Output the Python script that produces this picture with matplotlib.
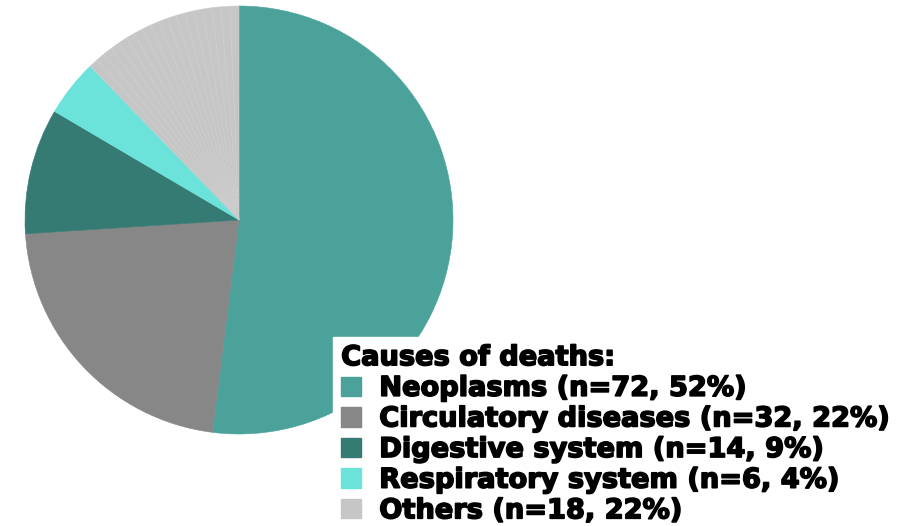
import matplotlib.pyplot as plt
import matplotlib.patheffects as pe

# causes of death
labels = ["Neoplasms", "Circulatory diseases", "Digestive system",
          "Respiratory system", "Others"]
counts = [72, 32, 14, 6, 18]
pct_text = ["52%", "22%", "9%", "4%", "22%"]
# shares as drawn in the pie (percent)
shares = [52, 22, 9.5, 4.3, 12.2]
colors = ["#4aa29b", "#878787", "#357a73", "#6ce3da", "#c6c6c6"]
# "Others" is drawn as many small sub-slices (faint lines in the original)
others_parts = [0.68, 0.68, 0.68, 0.68, 0.68, 0.68, 0.68, 0.68, 0.68,
                0.68, 0.68, 0.68, 0.68, 0.68, 0.68, 0.68, 0.68, 0.68]

plt.rcParams['font.family'] = ['DejaVu Sans']

fig = plt.figure(figsize=(9.17, 5.26), dpi=100)
ax = fig.add_axes([0, 0, 1, 1])

vals = shares[:-1] + others_parts
cols = colors[:-1] + [colors[-1]] * len(others_parts)
edges = colors[:-1] + ["#cdcdcd"] * len(others_parts)
wedges, _ = ax.pie(vals, colors=cols, startangle=90, counterclock=False,
                   center=(239, 306), radius=214, frame=True,
                   wedgeprops=dict(linewidth=0.4))
for w, e in zip(wedges, edges):
    w.set_edgecolor(e)
ax.set_xlim(0, 917)
ax.set_ylim(0, 526)
ax.set_aspect('equal')
ax.axis('off')

handles = [plt.Rectangle((0, 0), 1, 1, color=c) for c in colors]
leg_labels = [f"{l} (n={n}, {p})" for l, n, p in zip(labels, counts, pct_text)]
leg = fig.legend(handles, leg_labels, title="Causes of deaths:",
                 loc="upper left", bbox_to_anchor=(333 / 917, 1 - 337 / 526),
                 frameon=True, framealpha=1, edgecolor="white", fancybox=False,
                 prop=dict(size=19.6, weight='bold'),
                 title_fontproperties=dict(size=19.6, weight='bold'),
                 handlelength=0.72, handleheight=0.72, handletextpad=0.68,
                 labelspacing=0.17, borderpad=0.3, borderaxespad=0)
leg._legend_box.align = "left"
# thicken the strokes a bit, the original lettering is very heavy
for t in leg.get_texts() + [leg.get_title()]:
    t.set_path_effects([pe.withStroke(linewidth=1.2, foreground="black")])

fig.savefig("out.png", dpi=100)
